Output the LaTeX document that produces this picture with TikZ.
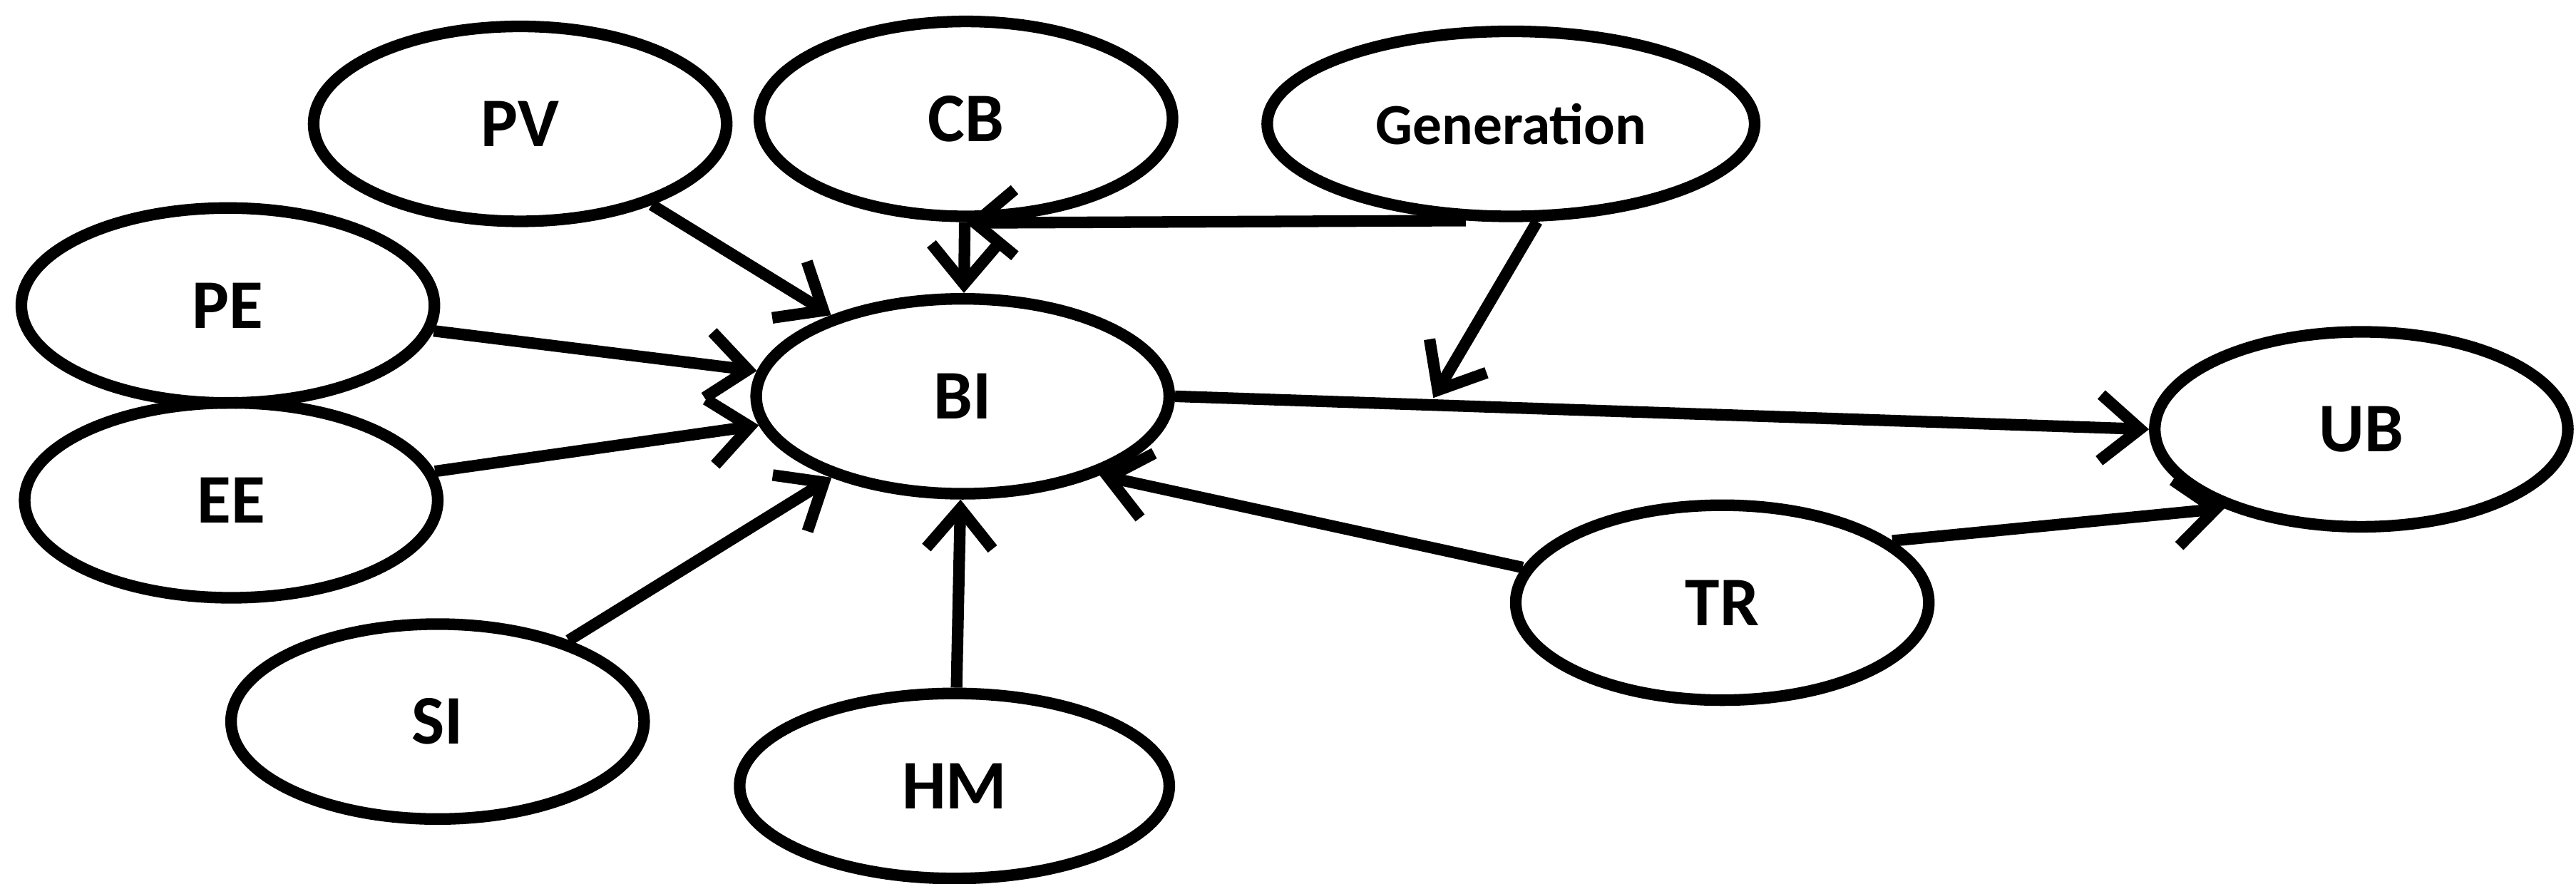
\documentclass[tikz,border=0pt]{standalone}
\usepackage{fontspec}
\setmainfont{Carlito}
\usetikzlibrary{arrows.meta,shapes.geometric}
\begin{document}
\begin{tikzpicture}[x=0.01cm,y=-0.01cm,
 el/.style={draw,ellipse,inner sep=0pt,line width=2pt,minimum width=2.5cm,minimum height=1.18cm,font=\bfseries\fontsize{12}{14}\selectfont},
 ar/.style={line width=2pt,-{Straight Barb[length=2.4mm,width=4mm,line width=2pt]}}]
\useasboundingbox (0,0) rectangle (1560,535);
\node[el] (PV) at (315,75) {PV};
\node[el] (CB) at (585,72) {CB};
\node[el,minimum width=2.95cm,minimum height=1.12cm,font=\bfseries\fontsize{10}{12}\selectfont] (G) at (915,75) {Generation};
\node[el] (PE) at (138,185) {PE};
\node[el] (BI) at (583,240) {BI};
\node[el] (EE) at (140,303) {EE};
\node[el] (SI) at (265,437) {SI};
\node[el,minimum width=2.6cm,minimum height=1.12cm] (HM) at (578,476) {HM};
\node[el] (TR) at (1043,365) {TR};
\node[el] (UB) at (1430,260) {UB};
\coordinate (c) at (585,135);
\coordinate (m) at (868,241);
\draw[ar] (PV) -- (BI);
\draw[ar] (PE) -- (BI);
\draw[ar] (EE) -- (BI);
\draw[ar] (SI) -- (BI);
\draw[ar] (HM) -- (BI);
\draw[ar] (CB) -- (BI);
\draw[ar] (G.-115) -- (c);
\draw[ar] (G.-75) -- (m);
\draw[ar] (BI.east) -- (UB.west);
\draw[ar] (TR.170) -- (BI.-30);
\draw[ar] (TR.20) -- (UB.-150);
\end{tikzpicture}
\end{document}
